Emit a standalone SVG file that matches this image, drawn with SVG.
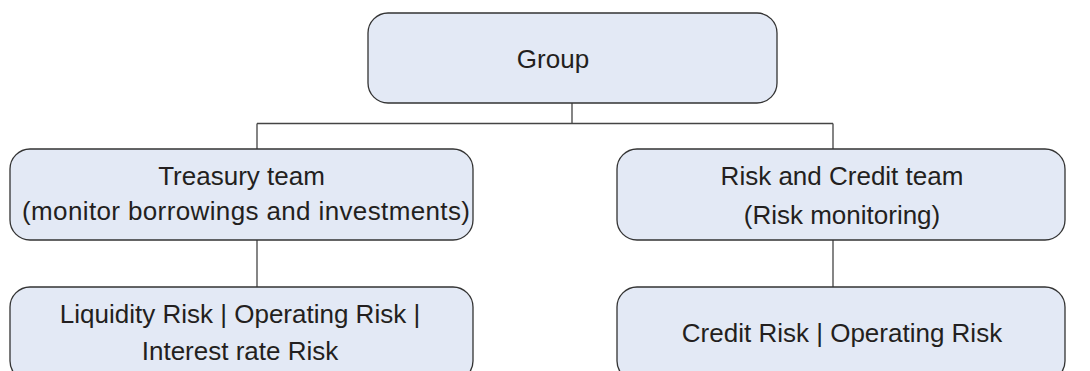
<svg xmlns="http://www.w3.org/2000/svg" width="1090" height="371" viewBox="0 0 1090 371">
<style>
.box{fill:#e3e9f5;stroke:#333;stroke-width:1.3}
.lbl{font-family:"Liberation Sans",Arial,sans-serif;font-size:26px;fill:#231f20;text-anchor:middle}
.conn{fill:none;stroke:#444;stroke-width:1.3}
</style>
<rect width="1090" height="371" fill="#fff"/>
<g id="connectors">
<path class="conn" d="M572 103V123.5M257 123.5H833M257 123.5V149M833 123.5V149"/>
<path class="conn" d="M257 240V287"/>
<path class="conn" d="M833 240V287"/>
</g>
<g id="group"><rect class="box" x="368" y="13" width="409" height="90" rx="20"/><text class="lbl" x="553" y="68">Group</text></g>
<g id="treasury"><rect class="box" x="10" y="149" width="463" height="91" rx="20"/><text class="lbl" x="241.5" y="185">Treasury team</text><text class="lbl" x="246" y="220" textLength="448" lengthAdjust="spacing">(monitor borrowings and investments)</text></g>
<g id="riskcredit"><rect class="box" x="617" y="149" width="448" height="91" rx="20"/><text class="lbl" x="842" y="185">Risk and Credit team</text><text class="lbl" x="842" y="224">(Risk monitoring)</text></g>
<g id="treasuryrisks"><rect class="box" x="10" y="287" width="463" height="94" rx="20"/><text class="lbl" x="240" y="323">Liquidity Risk | Operating Risk |</text><text class="lbl" x="240" y="360">Interest rate Risk</text></g>
<g id="creditrisks"><rect class="box" x="617" y="287" width="448" height="94" rx="20"/><text class="lbl" x="842" y="342">Credit Risk | Operating Risk</text></g>
</svg>
